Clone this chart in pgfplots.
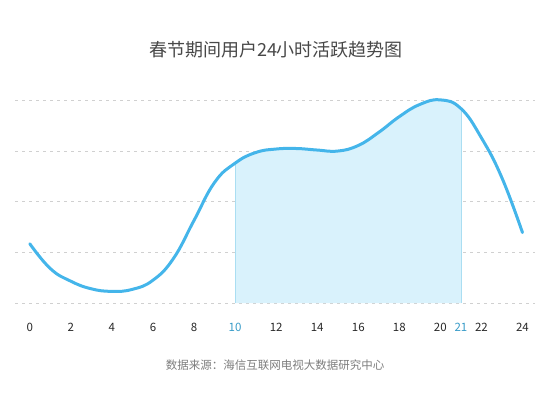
\documentclass[border=0pt]{standalone}
\usepackage{pgfplots}
\pgfplotsset{compat=1.18}
\usepgfplotslibrary{fillbetween}
\usepackage{pgfplotstable}
\usepackage{fontspec}
\setmainfont{Noto Sans CJK SC}
\definecolor{linecol}{RGB}{68,181,234}
\definecolor{fillcol}{RGB}{217,242,252}
\definecolor{edgecol}{RGB}{170,222,242}
\definecolor{gridcol}{RGB}{208,208,208}
\definecolor{tickblue}{RGB}{55,155,200}
\definecolor{titlegray}{RGB}{72,72,72}
\definecolor{srcgray}{RGB}{125,125,125}
\definecolor{tickgray}{RGB}{40,40,40}
\pgfplotstableread{
t v
0 1.17
1 0.68
2 0.43
3 0.28
4 0.23
5 0.27
6 0.45
7 0.88
8 1.63
9 2.38
10 2.76
11 2.97
12 3.04
13 3.05
14 3.02
15 3.00
16 3.11
17 3.37
18 3.68
19 3.92
20 4.01
21 3.84
22 3.26
23 2.47
24 1.39
}\activity
\begin{document}
\begin{tikzpicture}
\begin{axis}[
  at={(0,0)}, anchor=south west,
  scale only axis, width=520bp, height=202.6bp,
  xmin=-0.72, xmax=24.61, ymin=0, ymax=4,
  axis line style={draw=none},
  clip=false,
  ytick={0,1,2,3,4}, yticklabels={},
  ymajorgrids, grid style={gridcol, dash pattern=on 3bp off 4bp, line width=0.7bp},
  xtick={0,2,4,6,8,10,12,14,16,18,20,21,22,24},
  xticklabels={0,2,4,6,8,{\color{tickblue}10},12,14,16,18,20,{\color{tickblue}21},22,24},
  major tick length=0pt,
  xticklabel style={anchor=center, yshift=-24bp, font=\fontsize{11.5bp}{12bp}\selectfont, text=tickgray},
  /pgf/number format/assume math mode=true,
]
\addplot[name path=curve, draw=none, smooth, tension=0.75] table[x=t,y=v] {\activity};
\addplot[name path=base, draw=none] coordinates {(-0.5,0)(24.5,0)};
\addplot[fill=fillcol, draw=none] fill between[of=curve and base, soft clip={domain=10:21}];
\addplot[edgecol, line width=0.7bp] coordinates {(10,0)(10,2.76)};
\addplot[edgecol, line width=0.7bp] coordinates {(21,0)(21,3.84)};
\addplot[linecol, line width=3bp, smooth, tension=0.75, line cap=round] table[x=t,y=v] {\activity};
\end{axis}
\node[text=titlegray, font=\fontsize{18bp}{21bp}\selectfont] at (261bp,253bp) {春节期间用户24小时活跃趋势图};
\node[text=srcgray, font=\fontsize{11.5bp}{13bp}\selectfont] at (260bp,-62bp) {数据来源：海信互联网电视大数据研究中心};
\pgfresetboundingbox
\path[use as bounding box] (-15bp,-90bp) rectangle (535bp,303bp);
\end{tikzpicture}
\end{document}
